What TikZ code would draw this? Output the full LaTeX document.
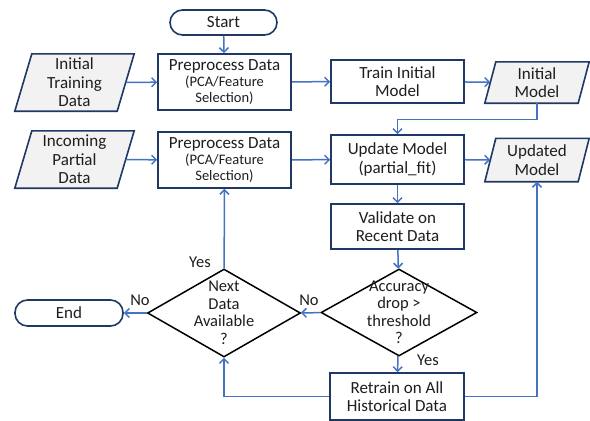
\documentclass[tikz,border=0pt]{standalone}
\usepackage{fontspec}
\setmainfont{Carlito}
\usetikzlibrary{arrows.meta,shapes.geometric,calc,backgrounds}
\definecolor{arrblue}{RGB}{68,114,196}
\definecolor{navy}{RGB}{31,56,100}
\definecolor{iogray}{RGB}{242,242,242}
\definecolor{txtgray}{RGB}{30,30,30}
\tikzset{
  procbox/.style={draw=navy,line width=1.6pt,fill=white,rectangle,inner sep=0pt,align=center,text=txtgray,font=\fontsize{17}{18.5}\selectfont},
  termbox/.style={draw=navy,line width=1.6pt,fill=white,rectangle,rounded corners=12.5pt,inner sep=0pt,text=txtgray,font=\fontsize{17}{18.5}\selectfont},
  iotext/.style={rectangle,inner sep=0pt,align=center,text=txtgray,font=\fontsize{17}{18.5}\selectfont},
  iobox/.style={draw=navy,line width=1.6pt,fill=iogray,line join=miter},
  decbox/.style={draw=black,line width=1.5pt,fill=white,diamond,inner sep=0pt},
  dectext/.style={inner sep=0pt,align=center,text=txtgray,font=\fontsize{16.5}{17.5}\selectfont},
  flow/.style={draw=arrblue,line width=1.5pt,-{Straight Barb[length=4.5pt,width=9pt,line width=1.5pt]}},
  lbl/.style={inner sep=0pt,text=txtgray,font=\fontsize{16.5}{18}\selectfont}
}
\begin{document}
\begin{tikzpicture}[x=1pt,y=-1pt]
\useasboundingbox (0,0) rectangle (590,421);
% terminals
\node[termbox,minimum width=107pt,minimum height=25pt] (start) at (223.5,22.5) {Start};
\node[termbox,minimum width=108pt,minimum height=26pt] (end) at (69,313) {End};
% process boxes
\node[procbox,minimum width=133pt,minimum height=56pt] (pre1) at (224.5,82) {Preprocess Data\\[-2pt]{\fontsize{14.5}{15.5}\selectfont (PCA/Feature}\\[-3pt]{\fontsize{14.5}{15.5}\selectfont Selection)}};
\node[procbox,minimum width=133pt,minimum height=56pt] (pre2) at (224.5,160) {Preprocess Data\\[-2pt]{\fontsize{14.5}{15.5}\selectfont (PCA/Feature}\\[-3pt]{\fontsize{14.5}{15.5}\selectfont Selection)}};
\node[procbox,minimum width=133pt,minimum height=43pt] (train) at (397.5,81.5) {Train Initial\\Model};
\node[procbox,minimum width=133pt,minimum height=49pt] (update) at (397.5,159.5) {Update Model\\(partial\_fit)};
\node[procbox,minimum width=133pt,minimum height=45pt] (valid) at (397.5,226.5) {Validate on\\Recent Data};
\node[procbox,minimum width=134pt,minimum height=47pt] (retrain) at (397,396.5) {Retrain on All\\Historical Data};
% io text nodes
\node[iotext,minimum width=102pt,minimum height=57pt] (itd) at (74.5,82.5) {Initial\\Training\\Data};
\node[iotext,minimum width=102pt,minimum height=57pt] (ipd) at (74.5,159.5) {Incoming\\Partial\\Data};
\node[iotext,minimum width=93pt,minimum height=41pt] (initm) at (537,82.5) {Initial\\Model};
\node[iotext,minimum width=93pt,minimum height=43pt] (updm) at (537,160) {Updated\\Model};
\begin{scope}[on background layer]
  \foreach \n/\s in {itd/8.5,ipd/8.5,initm/5.5,updm/5.5}{
    \draw[iobox] ($(\n.north west)+(\s,0)$) -- ($(\n.north east)+(\s,0)$) -- ($(\n.south east)+(-\s,0)$) -- ($(\n.south west)+(-\s,0)$) -- cycle;
  }
\end{scope}
% decisions
\node[decbox,minimum width=156pt,minimum height=87pt] (acc) at (399,312.5) {};
\node[dectext] (acct) at (acc.center) {Accuracy\\drop >\\threshold\\?};
\node[decbox,minimum width=153pt,minimum height=88pt] (next) at (224,313) {};
\node[dectext] (nextt) at (next.center) {Next\\Data\\Available\\?};
% coordinates
\coordinate (c1) at ($(initm.south)+(0,16.5)$);
\coordinate (c2) at (update.north |- c1);
\coordinate (c3) at (next.south |- retrain.west);
\coordinate (c4) at (updm.south |- retrain.east);
% connectors
\draw[flow] (start) -- (pre1);
\draw[flow] (itd) -- (pre1);
\draw[flow] (pre1) -- (train);
\draw[flow] (train) -- (initm);
\draw[flow] (initm.south) -- (c1) -- (c2) -- (update.north);
\draw[flow] (ipd) -- (pre2);
\draw[flow] (pre2) -- (update);
\draw[flow] (update) -- (updm);
\draw[flow] (update) -- (valid);
\draw[flow] (valid) -- (acc);
\draw[flow] (acc) -- (next);
\draw[flow] (acc) -- (retrain);
\draw[flow] (next) -- (end);
\draw[flow] (next) -- (pre2);
\draw[flow] (retrain.west) -- (c3) -- (next.south);
\draw[flow] (retrain.east) -- (c4) -- (updm.south);
% labels
\node[lbl] (lyes1) at (200,262) {Yes};
\node[lbl] (lno1) at (140,300) {No};
\node[lbl] (lno2) at (309,300) {No};
\node[lbl] (lyes2) at (428,360) {Yes};
\end{tikzpicture}
\end{document}
